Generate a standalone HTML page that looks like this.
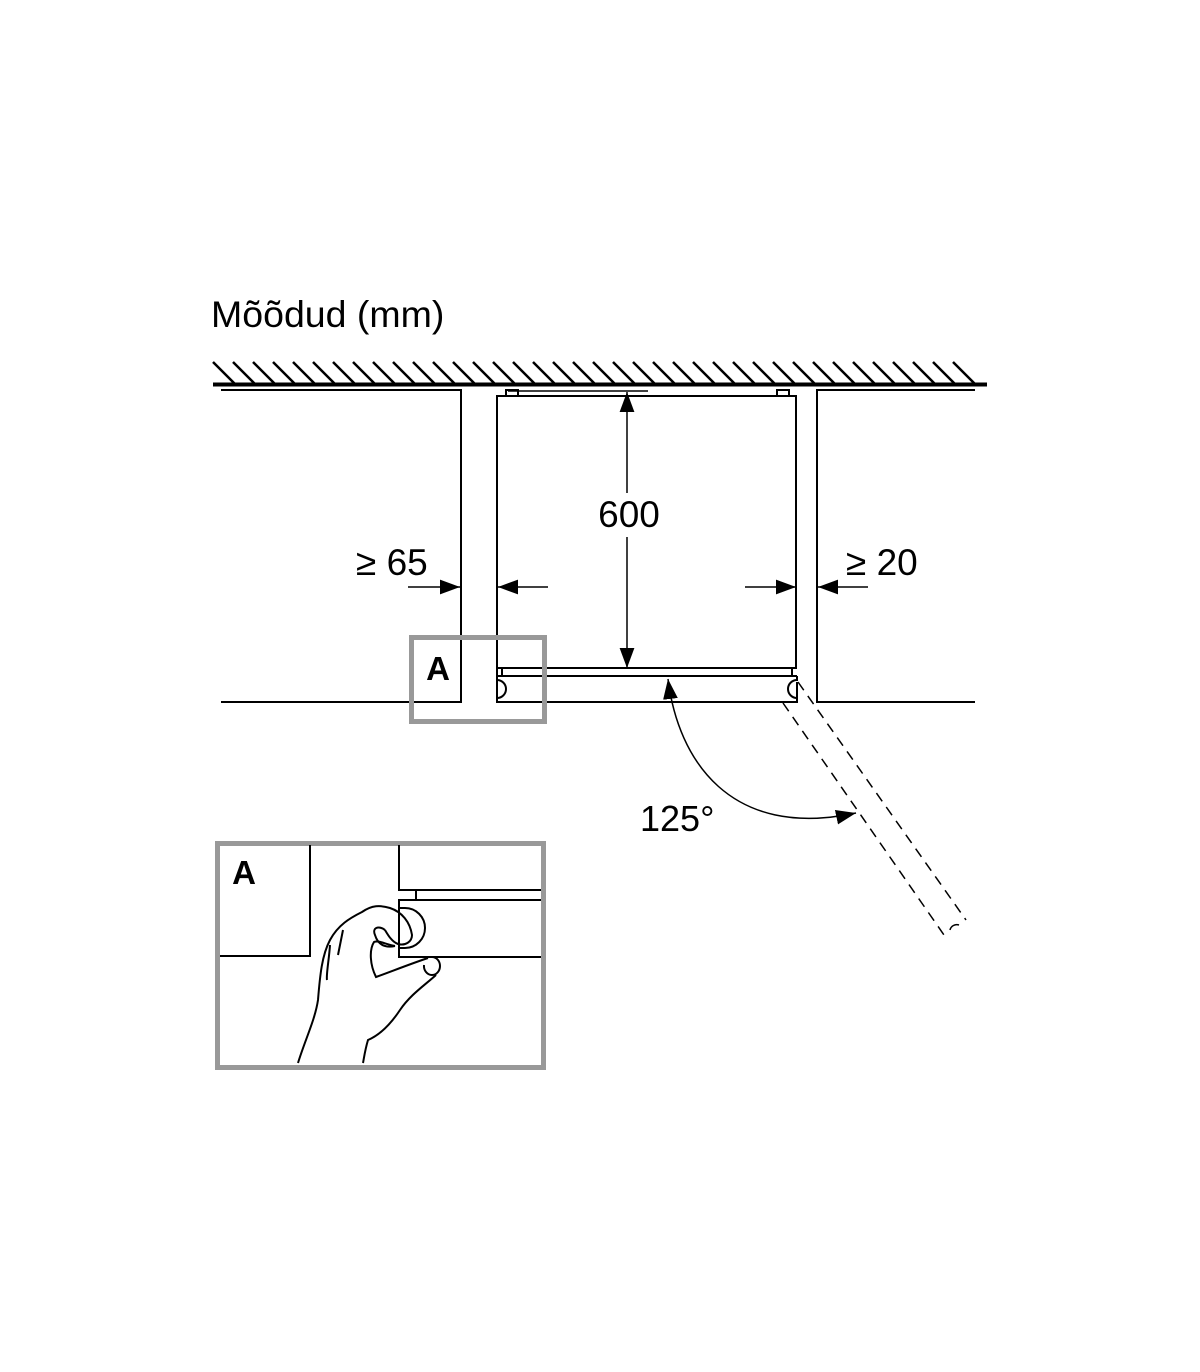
<!DOCTYPE html>
<html><head><meta charset="utf-8"><style>
html,body{margin:0;padding:0;background:#fff}
svg{display:block}
text{font-family:"Liberation Sans",Arial,sans-serif;fill:#000}
</style></head><body>
<svg width="1200" height="1372" viewBox="0 0 1200 1372" xmlns="http://www.w3.org/2000/svg">
<defs>
<marker id="ah" viewBox="0 0 10 10" refX="10" refY="5" markerWidth="20" markerHeight="20" markerUnits="userSpaceOnUse" orient="auto-start-reverse">
<path d="M0,1.3 L10,5 L0,8.7 Z" fill="#000"/>
</marker>
</defs>
<text x="211" y="327" font-size="37.5">Mõõdud (mm)</text>
<g stroke="#000" stroke-width="2.5">
<path d="M213,362 l22,22 M233,362 l22,22 M253,362 l22,22 M273,362 l22,22 M293,362 l22,22 M313,362 l22,22 M333,362 l22,22 M353,362 l22,22 M373,362 l22,22 M393,362 l22,22 M413,362 l22,22 M433,362 l22,22 M453,362 l22,22 M473,362 l22,22 M493,362 l22,22 M513,362 l22,22 M533,362 l22,22 M553,362 l22,22 M573,362 l22,22 M593,362 l22,22 M613,362 l22,22 M633,362 l22,22 M653,362 l22,22 M673,362 l22,22 M693,362 l22,22 M713,362 l22,22 M733,362 l22,22 M753,362 l22,22 M773,362 l22,22 M793,362 l22,22 M813,362 l22,22 M833,362 l22,22 M853,362 l22,22 M873,362 l22,22 M893,362 l22,22 M913,362 l22,22 M933,362 l22,22 M953,362 l22,22"/>
</g>
<line x1="213" y1="384.5" x2="987" y2="384.5" stroke="#000" stroke-width="4"/>
<g stroke="#000" stroke-width="2" fill="none">
<path d="M221,390 H461 V702 H221"/>
<path d="M975,390 H817 V702 H975"/>
<rect x="506" y="390" width="12" height="6"/>
<rect x="777" y="390" width="12" height="6"/>
<path d="M497,702 V396 H796 V668 H497"/>
<path d="M497,682 V702 H797 V682 M497,676 H797"/>
<path d="M497,676 V680 a9,9 0 0 1 0,18" />
<path d="M797,676 V680 a9,9 0 0 0 0,18"/>
<path d="M502,668 v8 M792,668 v8"/>
</g>
<line x1="508" y1="391" x2="648" y2="391" stroke="#000" stroke-width="1.5"/>
<g stroke="#000" stroke-width="1.5" fill="none">
<line x1="627" y1="493" x2="627" y2="392" marker-end="url(#ah)"/>
<line x1="627" y1="537" x2="627" y2="668" marker-end="url(#ah)"/>
<line x1="408" y1="587" x2="460" y2="587" marker-end="url(#ah)"/>
<line x1="548" y1="587" x2="498" y2="587" marker-end="url(#ah)"/>
<line x1="745" y1="587" x2="796" y2="587" marker-end="url(#ah)"/>
<line x1="868" y1="587" x2="818" y2="587" marker-end="url(#ah)"/>
<path d="M668,679 C678,760 730,840 856,813" marker-start="url(#ah)" marker-end="url(#ah)"/>
</g>
<text x="629" y="527" font-size="37" text-anchor="middle">600</text>
<text x="356" y="575" font-size="37">≥ 65</text>
<text x="846" y="575" font-size="37">≥ 20</text>
<text x="640" y="831" font-size="36">125°</text>
<g stroke="#000" stroke-width="1.5" stroke-dasharray="10,7" fill="none">
<line x1="783" y1="703" x2="944" y2="935"/>
<line x1="798" y1="682" x2="966" y2="920"/>
</g>
<path d="M950,930 a7,7 0 0 1 9,-5" stroke="#000" stroke-width="1.5" fill="none"/>
<rect x="411.5" y="637.5" width="133" height="84" fill="none" stroke="#999" stroke-width="5"/>
<text x="438" y="680" font-size="33" font-weight="bold" text-anchor="middle">A</text>
<rect x="217.5" y="843.5" width="326" height="224" fill="none" stroke="#999" stroke-width="5"/>
<text x="244" y="884" font-size="33" font-weight="bold" text-anchor="middle">A</text>
<g stroke="#000" stroke-width="2" fill="none">
<path d="M310,845 V956 H220"/>
<path d="M399,845 V890 H541 M416,890 V900 M541,900 H399 V957 H541"/>
<path d="M399,908 H405 a20,20 0 0 1 0,40 H399"/>
<path d="M298,1063 C305,1040 315,1020 318,1000 C320,975 322,955 330,940 C338,925 350,918 362,912 C372,905 380,905 390,908 C402,912 410,922 412,935 C412,942 405,946 398,944 C392,942 388,935 385,930"/>
<path d="M385,930 C378,925 372,928 375,935 C378,945 385,948 395,946"/>
<path d="M395,946 C385,944 378,940 374,942 C369,950 370,965 376,977 C390,972 410,964 428,958"/>
<path d="M432,957 a8,9 0 0 1 0,18 a8,9 0 0 1 -8,-10"/>
<path d="M436,975 C425,985 410,995 400,1010 C390,1025 380,1035 368,1040 C365,1050 364,1058 363,1063"/>
<path d="M330,945 C329,960 326,975 327,980 M343,930 C340,945 339,950 338,955"/>
</g>
</svg>
</body></html>
